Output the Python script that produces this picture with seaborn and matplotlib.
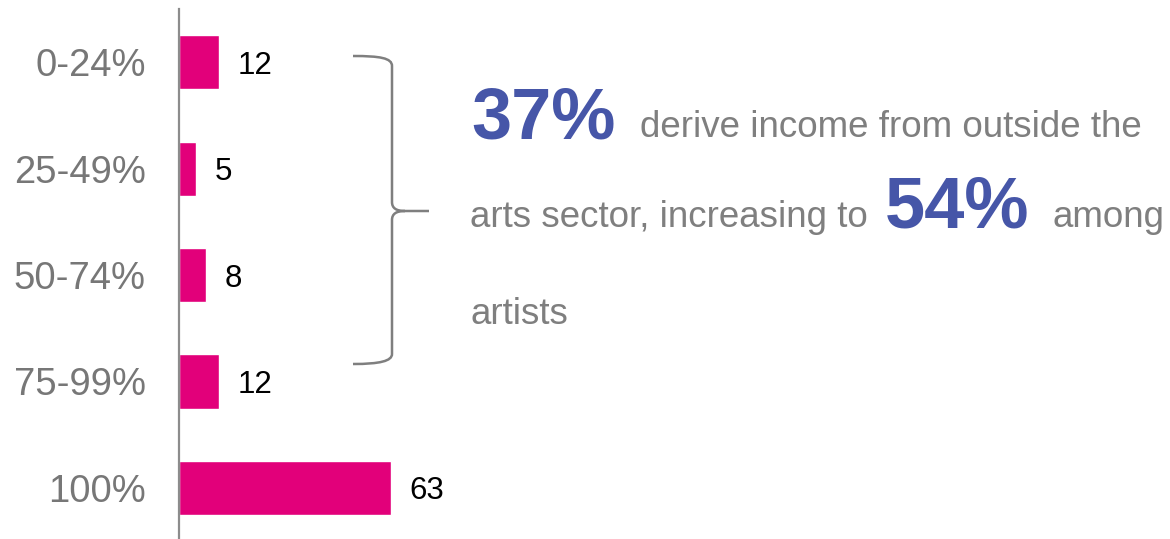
import matplotlib
matplotlib.use("Agg")
import matplotlib.pyplot as plt
from matplotlib.path import Path
from matplotlib.patches import PathPatch
import pandas as pd
import seaborn as sns

# Share of income derived from the arts, by band
categories = ["0-24%", "25-49%", "50-74%", "75-99%", "100%"]
values = [12, 5, 8, 12, 63]

BAR_COLOR = "#E2007A"
GREY = "#7F7F7F"
BLUE = "#4656A8"

sns.set_theme(style="white")
plt.rcParams["font.family"] = ["Liberation Sans", "DejaVu Sans"]

W, H = 1170, 539
fig = plt.figure(figsize=(W / 100, H / 100), dpi=100)

# axes placed in pixel terms: left edge is the category axis line
ax_left, ax_top, ax_bottom = 179, 9, 539
ax = fig.add_axes([ax_left / W, 1 - ax_bottom / H, (W - ax_left) / W, (ax_bottom - ax_top) / H])
ax.patch.set_alpha(0)

df = pd.DataFrame({"band": categories, "pct": values})
sns.barplot(data=df, y="band", x="pct", orient="h", color=BAR_COLOR,
            saturation=1, width=0.51, ax=ax)

px_per_unit = 3.36
ax.set_xlim(0, (W - ax_left) / px_per_unit)
ax.set_ylim(4.48, -0.5)

for c in ax.containers:
    labels = ax.bar_label(c, labels=[str(v) for v in values], padding=13.5,
                          fontsize=22.5, color="black")
    for t in labels:
        t.set_va("center_baseline")

ax.set_xlabel("")
ax.set_ylabel("")
ax.set_xticks([])
ax.tick_params(axis="y", length=0, pad=24, labelsize=27.5, labelcolor="#777777")
for side in ["top", "right", "bottom"]:
    ax.spines[side].set_visible(False)
ax.spines["left"].set_color("#8C8C8C")
ax.spines["left"].set_linewidth(1.6)


def fx(x):
    return x / W


def fy(y):
    return 1 - y / H


# curly brace grouping the first four bands
verts = [
    (353, 56), (380, 56), (392, 58), (392, 66),
    (392, 202),
    (392, 208), (396, 211), (405, 211),
    (429, 211),
    (405, 211), (396, 211), (392, 214), (392, 220),
    (392, 354),
    (392, 361), (380, 364), (353, 364),
]
codes = [
    Path.MOVETO, Path.CURVE4, Path.CURVE4, Path.CURVE4,
    Path.LINETO,
    Path.CURVE4, Path.CURVE4, Path.CURVE4,
    Path.LINETO,
    Path.MOVETO, Path.CURVE4, Path.CURVE4, Path.CURVE4,
    Path.LINETO,
    Path.CURVE4, Path.CURVE4, Path.CURVE4,
]
brace = Path([(fx(x), fy(y)) for x, y in verts], codes)
fig.patches.append(PathPatch(brace, transform=fig.transFigure, fill=False,
                             edgecolor=GREY, linewidth=1.8, capstyle="butt"))

# headline text
txt = dict(ha="left", va="baseline")
fig.text(fx(471), fy(139), "37%", fontsize=52, fontweight="bold", color=BLUE, **txt)
fig.text(fx(640), fy(137), "derive income from outside the", fontsize=26.5, color=GREY, **txt)
fig.text(fx(470), fy(227), "arts sector, increasing to", fontsize=26.5, color=GREY, **txt)
fig.text(fx(885), fy(228), "54%", fontsize=52, fontweight="bold", color=BLUE, **txt)
fig.text(fx(1052), fy(227), "among", fontsize=26.5, color=GREY, **txt)
fig.text(fx(470), fy(324), "artists", fontsize=26.5, color=GREY, **txt)

fig.savefig("out.png", dpi=100)
